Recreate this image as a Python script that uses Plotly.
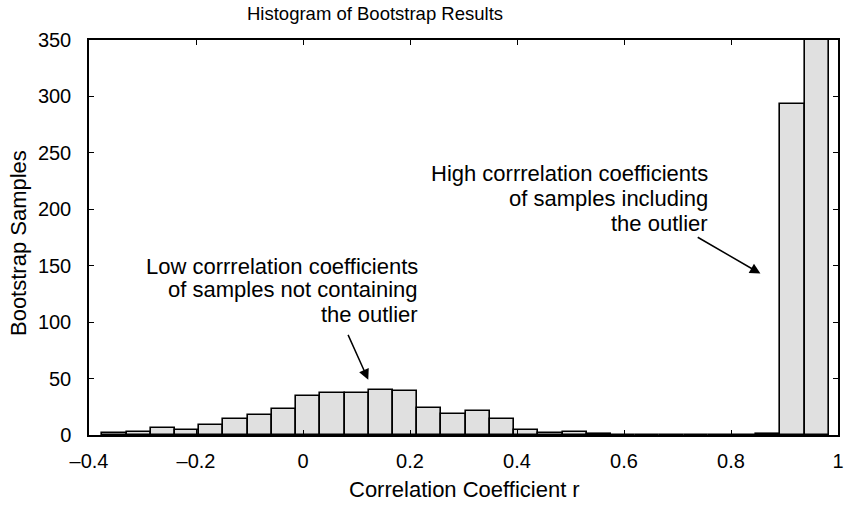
import plotly.graph_objects as go

# Histogram data (30 bins spanning the data range)
bin_min = -0.375
bin_max = 0.983
counts = [2, 3, 6, 4, 9, 14, 18, 23, 35, 37,
          37, 40, 39, 24, 19, 21, 14, 4, 2, 3,
          1, 0, 0, 0, 0, 0, 0, 1, 293, 351]

x_tickvals = [-0.4, -0.2, 0, 0.2, 0.4, 0.6, 0.8, 1.0]
x_ticktext = ["\u20130.4", "\u20130.2", "0", "0.2", "0.4", "0.6", "0.8", "1"]
y_tickvals = [0, 50, 100, 150, 200, 250, 300, 350]

high_lines = ["High corrrelation coefficients", "of samples including", "the outlier"]
low_lines = ["Low corrrelation coefficients", "of samples not containing", "the outlier"]

n_bins = len(counts)
bin_w = (bin_max - bin_min) / n_bins
centers = [bin_min + bin_w * (i + 0.5) for i in range(n_bins)]

FONT = "Liberation Sans, Arial, Helvetica, sans-serif"

fig = go.Figure()
fig.add_trace(go.Bar(
    x=centers, y=counts, width=[bin_w] * n_bins,
    marker=dict(color="#e0e0e0", line=dict(color="black", width=1.6)),
    showlegend=False,
))

fig.update_layout(
    width=844, height=506,
    margin=dict(l=89, r=6, t=40, b=71, autoexpand=False),
    paper_bgcolor="white", plot_bgcolor="white",
    font=dict(family=FONT, size=20, color="black"),
    bargap=0,
    xaxis=dict(range=[-0.4, 1.0], tickvals=x_tickvals, ticktext=x_ticktext,
               ticks="inside", ticklen=5, tickwidth=1.2, tickcolor="black",
               showline=True, linecolor="black", linewidth=2, mirror="ticks",
               showgrid=False, zeroline=False, ticklabelstandoff=7,
               ticklabeloverflow="allow", automargin=False,
               tickfont=dict(size=20)),
    yaxis=dict(range=[0, 350], tickvals=y_tickvals,
               ticks="inside", ticklen=5, tickwidth=1.2, tickcolor="black",
               showline=True, linecolor="black", linewidth=1.5, mirror="ticks",
               showgrid=False, zeroline=False, ticklabelstandoff=12,
               automargin=False, tickfont=dict(size=20)),
)

annots = [
    dict(text="Histogram of Bootstrap Results", x=(375 - 89) / 749, y=1.068,
         xref="paper", yref="paper", showarrow=False, xanchor="center",
         yanchor="middle", font=dict(size=18.5)),
    dict(text="Correlation Coefficient r", x=(464 - 89) / 749, y=-0.139, xref="paper",
         yref="paper", showarrow=False, xanchor="center", yanchor="middle",
         font=dict(size=22)),
    dict(text="Bootstrap Samples", x=(18 - 89) / 749, y=0.486, xref="paper", yref="paper",
         showarrow=False, textangle=-90, xanchor="center", yanchor="middle",
         font=dict(size=22)),
    dict(text="", x=0.855, y=143, ax=0.735, ay=176, xref="x", yref="y",
         axref="x", ayref="y", showarrow=True, arrowhead=2, arrowsize=1.4,
         arrowwidth=1.5, arrowcolor="black"),
    dict(text="", x=0.122, y=49, ax=0.083, ay=90, xref="x", yref="y",
         axref="x", ayref="y", showarrow=True, arrowhead=2, arrowsize=1.4,
         arrowwidth=1.5, arrowcolor="black"),
]
for txt, yv in zip(high_lines, [231.3, 209.2, 187.0]):
    annots.append(dict(text=txt, x=0.76, y=yv, xref="x", yref="y", showarrow=False,
                       xanchor="right", yanchor="middle", font=dict(size=22)))
for txt, yv in zip(low_lines, [149.7, 128.5, 107.2]):
    annots.append(dict(text=txt, x=0.218, y=yv, xref="x", yref="y", showarrow=False,
                       xanchor="right", yanchor="middle", font=dict(size=22)))
fig.update_layout(annotations=annots)

fig.write_html(
    "out.html",
    config={"displayModeBar": False},
    post_script="document.body.style.margin='0';document.body.style.overflow='hidden';",
)
